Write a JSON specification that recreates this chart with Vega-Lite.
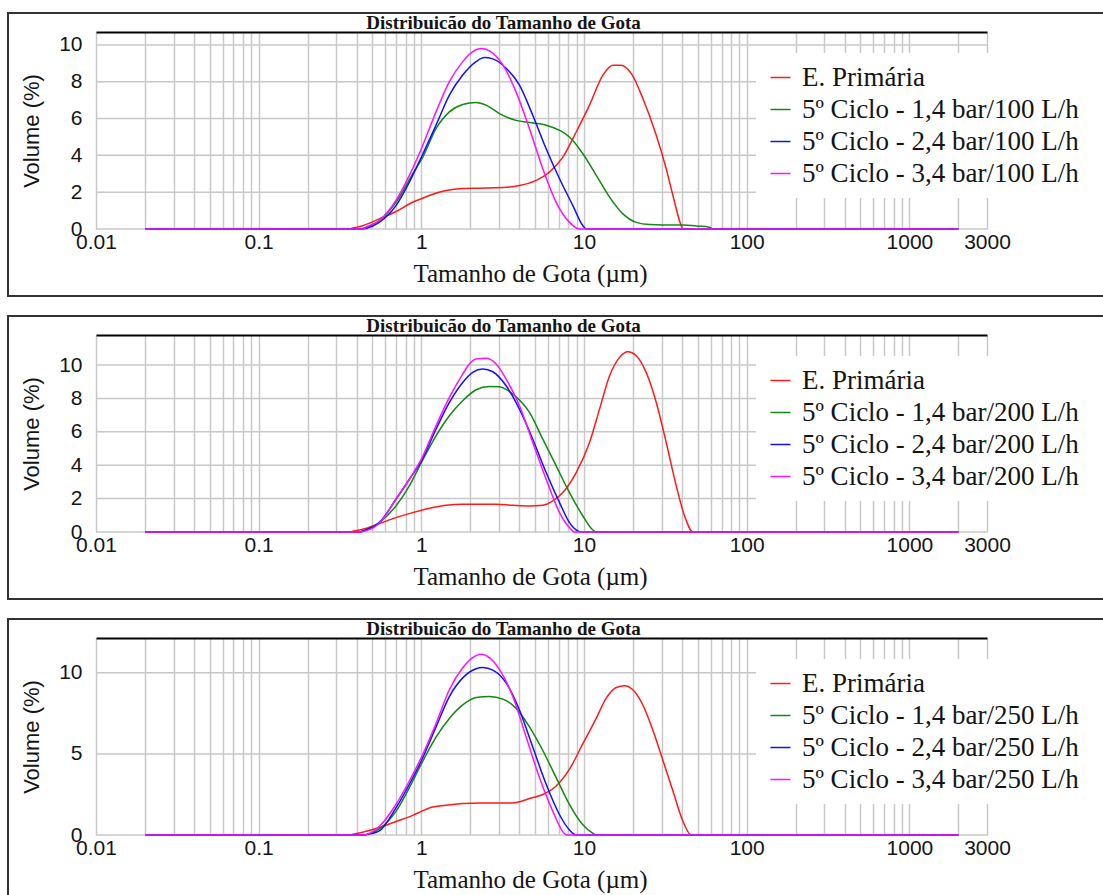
{
"$schema":"https://vega.github.io/schema/vega-lite/v6.json",
"padding":{"left":7,"top":12,"right":0,"bottom":0},
"background":"white",
"data":{"values":[
{"painel":1,"linha_grade":0,"tamanho":0.01},{"painel":1,"linha_grade":0,"tamanho":3000},
{"painel":1,"linha_grade":2,"tamanho":0.01},{"painel":1,"linha_grade":2,"tamanho":3000},
{"painel":1,"linha_grade":4,"tamanho":0.01},{"painel":1,"linha_grade":4,"tamanho":3000},
{"painel":1,"linha_grade":6,"tamanho":0.01},{"painel":1,"linha_grade":6,"tamanho":3000},
{"painel":1,"linha_grade":8,"tamanho":0.01},{"painel":1,"linha_grade":8,"tamanho":3000},
{"painel":1,"linha_grade":10,"tamanho":0.01},{"painel":1,"linha_grade":10,"tamanho":3000},
{"painel":2,"linha_grade":0,"tamanho":0.01},{"painel":2,"linha_grade":0,"tamanho":3000},
{"painel":2,"linha_grade":2,"tamanho":0.01},{"painel":2,"linha_grade":2,"tamanho":3000},
{"painel":2,"linha_grade":4,"tamanho":0.01},{"painel":2,"linha_grade":4,"tamanho":3000},
{"painel":2,"linha_grade":6,"tamanho":0.01},{"painel":2,"linha_grade":6,"tamanho":3000},
{"painel":2,"linha_grade":8,"tamanho":0.01},{"painel":2,"linha_grade":8,"tamanho":3000},
{"painel":2,"linha_grade":10,"tamanho":0.01},{"painel":2,"linha_grade":10,"tamanho":3000},
{"painel":3,"linha_grade":0,"tamanho":0.01},{"painel":3,"linha_grade":0,"tamanho":3000},
{"painel":3,"linha_grade":5,"tamanho":0.01},{"painel":3,"linha_grade":5,"tamanho":3000},
{"painel":3,"linha_grade":10,"tamanho":0.01},{"painel":3,"linha_grade":10,"tamanho":3000},
{"painel":1,"serie":"E. Primária","tamanho":0.02,"volume":0},
{"painel":1,"serie":"E. Primária","tamanho":0.36,"volume":0},
{"painel":1,"serie":"E. Primária","tamanho":0.378,"volume":0.05},
{"painel":1,"serie":"E. Primária","tamanho":0.435,"volume":0.18},
{"painel":1,"serie":"E. Primária","tamanho":0.551,"volume":0.55},
{"painel":1,"serie":"E. Primária","tamanho":0.698,"volume":0.95},
{"painel":1,"serie":"E. Primária","tamanho":0.884,"volume":1.45},
{"painel":1,"serie":"E. Primária","tamanho":1.0,"volume":1.64},
{"painel":1,"serie":"E. Primária","tamanho":1.12,"volume":1.82},
{"painel":1,"serie":"E. Primária","tamanho":1.418,"volume":2.09},
{"painel":1,"serie":"E. Primária","tamanho":1.796,"volume":2.2},
{"painel":1,"serie":"E. Primária","tamanho":2.3,"volume":2.22},
{"painel":1,"serie":"E. Primária","tamanho":3.17,"volume":2.25},
{"painel":1,"serie":"E. Primária","tamanho":4.01,"volume":2.36},
{"painel":1,"serie":"E. Primária","tamanho":5.08,"volume":2.64},
{"painel":1,"serie":"E. Primária","tamanho":6.13,"volume":3.09},
{"painel":1,"serie":"E. Primária","tamanho":7.41,"volume":3.9},
{"painel":1,"serie":"E. Primária","tamanho":8.95,"volume":5.27},
{"painel":1,"serie":"E. Primária","tamanho":10.81,"volume":6.73},
{"painel":1,"serie":"E. Primária","tamanho":13.06,"volume":8.36},
{"painel":1,"serie":"E. Primária","tamanho":15.05,"volume":8.9},
{"painel":1,"serie":"E. Primária","tamanho":16.9,"volume":8.9},
{"painel":1,"serie":"E. Primária","tamanho":19.5,"volume":8.45},
{"painel":1,"serie":"E. Primária","tamanho":23.0,"volume":7.09},
{"painel":1,"serie":"E. Primária","tamanho":27.8,"volume":5.09},
{"painel":1,"serie":"E. Primária","tamanho":32.0,"volume":3.27},
{"painel":1,"serie":"E. Primária","tamanho":35.2,"volume":1.82},
{"painel":1,"serie":"E. Primária","tamanho":39.6,"volume":0.18},
{"painel":1,"serie":"E. Primária","tamanho":40.6,"volume":0},
{"painel":1,"serie":"E. Primária","tamanho":2000,"volume":0},
{"painel":1,"serie":"5º Ciclo - 1,4 bar/100 L/h","tamanho":0.02,"volume":0},
{"painel":1,"serie":"5º Ciclo - 1,4 bar/100 L/h","tamanho":0.42,"volume":0},
{"painel":1,"serie":"5º Ciclo - 1,4 bar/100 L/h","tamanho":0.435,"volume":0.03},
{"painel":1,"serie":"5º Ciclo - 1,4 bar/100 L/h","tamanho":0.551,"volume":0.45},
{"painel":1,"serie":"5º Ciclo - 1,4 bar/100 L/h","tamanho":0.698,"volume":1.45},
{"painel":1,"serie":"5º Ciclo - 1,4 bar/100 L/h","tamanho":0.884,"volume":3.0},
{"painel":1,"serie":"5º Ciclo - 1,4 bar/100 L/h","tamanho":1.02,"volume":3.9},
{"painel":1,"serie":"5º Ciclo - 1,4 bar/100 L/h","tamanho":1.231,"volume":5.45},
{"painel":1,"serie":"5º Ciclo - 1,4 bar/100 L/h","tamanho":1.487,"volume":6.36},
{"painel":1,"serie":"5º Ciclo - 1,4 bar/100 L/h","tamanho":1.796,"volume":6.76},
{"painel":1,"serie":"5º Ciclo - 1,4 bar/100 L/h","tamanho":2.17,"volume":6.87},
{"painel":1,"serie":"5º Ciclo - 1,4 bar/100 L/h","tamanho":2.5,"volume":6.73},
{"painel":1,"serie":"5º Ciclo - 1,4 bar/100 L/h","tamanho":3.02,"volume":6.27},
{"painel":1,"serie":"5º Ciclo - 1,4 bar/100 L/h","tamanho":3.82,"volume":5.9},
{"painel":1,"serie":"5º Ciclo - 1,4 bar/100 L/h","tamanho":4.62,"volume":5.78},
{"painel":1,"serie":"5º Ciclo - 1,4 bar/100 L/h","tamanho":5.85,"volume":5.64},
{"painel":1,"serie":"5º Ciclo - 1,4 bar/100 L/h","tamanho":7.07,"volume":5.36},
{"painel":1,"serie":"5º Ciclo - 1,4 bar/100 L/h","tamanho":8.14,"volume":5.0},
{"painel":1,"serie":"5º Ciclo - 1,4 bar/100 L/h","tamanho":9.84,"volume":4.09},
{"painel":1,"serie":"5º Ciclo - 1,4 bar/100 L/h","tamanho":11.9,"volume":2.91},
{"painel":1,"serie":"5º Ciclo - 1,4 bar/100 L/h","tamanho":14.36,"volume":1.73},
{"painel":1,"serie":"5º Ciclo - 1,4 bar/100 L/h","tamanho":17.34,"volume":0.82},
{"painel":1,"serie":"5º Ciclo - 1,4 bar/100 L/h","tamanho":20.94,"volume":0.36},
{"painel":1,"serie":"5º Ciclo - 1,4 bar/100 L/h","tamanho":25.3,"volume":0.24},
{"painel":1,"serie":"5º Ciclo - 1,4 bar/100 L/h","tamanho":30.6,"volume":0.22},
{"painel":1,"serie":"5º Ciclo - 1,4 bar/100 L/h","tamanho":40.6,"volume":0.22},
{"painel":1,"serie":"5º Ciclo - 1,4 bar/100 L/h","tamanho":49,"volume":0.16},
{"painel":1,"serie":"5º Ciclo - 1,4 bar/100 L/h","tamanho":59,"volume":0.1},
{"painel":1,"serie":"5º Ciclo - 1,4 bar/100 L/h","tamanho":62,"volume":0},
{"painel":1,"serie":"5º Ciclo - 1,4 bar/100 L/h","tamanho":2000,"volume":0},
{"painel":1,"serie":"5º Ciclo - 2,4 bar/100 L/h","tamanho":0.02,"volume":0},
{"painel":1,"serie":"5º Ciclo - 2,4 bar/100 L/h","tamanho":0.44,"volume":0},
{"painel":1,"serie":"5º Ciclo - 2,4 bar/100 L/h","tamanho":0.456,"volume":0.03},
{"painel":1,"serie":"5º Ciclo - 2,4 bar/100 L/h","tamanho":0.551,"volume":0.36},
{"painel":1,"serie":"5º Ciclo - 2,4 bar/100 L/h","tamanho":0.698,"volume":1.27},
{"painel":1,"serie":"5º Ciclo - 2,4 bar/100 L/h","tamanho":0.844,"volume":2.55},
{"painel":1,"serie":"5º Ciclo - 2,4 bar/100 L/h","tamanho":1.0,"volume":3.9},
{"painel":1,"serie":"5º Ciclo - 2,4 bar/100 L/h","tamanho":1.231,"volume":5.64},
{"painel":1,"serie":"5º Ciclo - 2,4 bar/100 L/h","tamanho":1.487,"volume":7.27},
{"painel":1,"serie":"5º Ciclo - 2,4 bar/100 L/h","tamanho":1.796,"volume":8.36},
{"painel":1,"serie":"5º Ciclo - 2,4 bar/100 L/h","tamanho":2.17,"volume":9.09},
{"painel":1,"serie":"5º Ciclo - 2,4 bar/100 L/h","tamanho":2.44,"volume":9.31},
{"painel":1,"serie":"5º Ciclo - 2,4 bar/100 L/h","tamanho":2.75,"volume":9.24},
{"painel":1,"serie":"5º Ciclo - 2,4 bar/100 L/h","tamanho":3.32,"volume":8.73},
{"painel":1,"serie":"5º Ciclo - 2,4 bar/100 L/h","tamanho":4.01,"volume":7.82},
{"painel":1,"serie":"5º Ciclo - 2,4 bar/100 L/h","tamanho":4.84,"volume":6.18},
{"painel":1,"serie":"5º Ciclo - 2,4 bar/100 L/h","tamanho":5.85,"volume":4.36},
{"painel":1,"serie":"5º Ciclo - 2,4 bar/100 L/h","tamanho":7.07,"volume":2.73},
{"painel":1,"serie":"5º Ciclo - 2,4 bar/100 L/h","tamanho":8.54,"volume":1.27},
{"painel":1,"serie":"5º Ciclo - 2,4 bar/100 L/h","tamanho":9.84,"volume":0.18},
{"painel":1,"serie":"5º Ciclo - 2,4 bar/100 L/h","tamanho":10.31,"volume":0},
{"painel":1,"serie":"5º Ciclo - 2,4 bar/100 L/h","tamanho":2000,"volume":0},
{"painel":1,"serie":"5º Ciclo - 3,4 bar/100 L/h","tamanho":0.02,"volume":0},
{"painel":1,"serie":"5º Ciclo - 3,4 bar/100 L/h","tamanho":0.44,"volume":0},
{"painel":1,"serie":"5º Ciclo - 3,4 bar/100 L/h","tamanho":0.456,"volume":0.09},
{"painel":1,"serie":"5º Ciclo - 3,4 bar/100 L/h","tamanho":0.551,"volume":0.45},
{"painel":1,"serie":"5º Ciclo - 3,4 bar/100 L/h","tamanho":0.698,"volume":1.55},
{"painel":1,"serie":"5º Ciclo - 3,4 bar/100 L/h","tamanho":0.844,"volume":2.91},
{"painel":1,"serie":"5º Ciclo - 3,4 bar/100 L/h","tamanho":1.0,"volume":4.36},
{"painel":1,"serie":"5º Ciclo - 3,4 bar/100 L/h","tamanho":1.231,"volume":6.36},
{"painel":1,"serie":"5º Ciclo - 3,4 bar/100 L/h","tamanho":1.487,"volume":8.0},
{"painel":1,"serie":"5º Ciclo - 3,4 bar/100 L/h","tamanho":1.796,"volume":9.09},
{"painel":1,"serie":"5º Ciclo - 3,4 bar/100 L/h","tamanho":2.07,"volume":9.64},
{"painel":1,"serie":"5º Ciclo - 3,4 bar/100 L/h","tamanho":2.33,"volume":9.8},
{"painel":1,"serie":"5º Ciclo - 3,4 bar/100 L/h","tamanho":2.62,"volume":9.67},
{"painel":1,"serie":"5º Ciclo - 3,4 bar/100 L/h","tamanho":3.17,"volume":8.91},
{"painel":1,"serie":"5º Ciclo - 3,4 bar/100 L/h","tamanho":3.82,"volume":7.45},
{"painel":1,"serie":"5º Ciclo - 3,4 bar/100 L/h","tamanho":4.62,"volume":5.45},
{"painel":1,"serie":"5º Ciclo - 3,4 bar/100 L/h","tamanho":5.58,"volume":3.27},
{"painel":1,"serie":"5º Ciclo - 3,4 bar/100 L/h","tamanho":6.74,"volume":1.45},
{"painel":1,"serie":"5º Ciclo - 3,4 bar/100 L/h","tamanho":8.14,"volume":0.36},
{"painel":1,"serie":"5º Ciclo - 3,4 bar/100 L/h","tamanho":9.38,"volume":0},
{"painel":1,"serie":"5º Ciclo - 3,4 bar/100 L/h","tamanho":2000,"volume":0},
{"painel":2,"serie":"E. Primária","tamanho":0.02,"volume":0},
{"painel":2,"serie":"E. Primária","tamanho":0.36,"volume":0},
{"painel":2,"serie":"E. Primária","tamanho":0.378,"volume":0.04},
{"painel":2,"serie":"E. Primária","tamanho":0.435,"volume":0.16},
{"painel":2,"serie":"E. Primária","tamanho":0.551,"volume":0.5},
{"painel":2,"serie":"E. Primária","tamanho":0.698,"volume":0.86},
{"painel":2,"serie":"E. Primária","tamanho":0.884,"volume":1.16},
{"painel":2,"serie":"E. Primária","tamanho":1.12,"volume":1.42},
{"painel":2,"serie":"E. Primária","tamanho":1.418,"volume":1.6},
{"painel":2,"serie":"E. Primária","tamanho":1.796,"volume":1.66},
{"painel":2,"serie":"E. Primária","tamanho":2.88,"volume":1.66},
{"painel":2,"serie":"E. Primária","tamanho":3.65,"volume":1.6},
{"painel":2,"serie":"E. Primária","tamanho":4.62,"volume":1.56},
{"painel":2,"serie":"E. Primária","tamanho":5.58,"volume":1.6},
{"painel":2,"serie":"E. Primária","tamanho":6.43,"volume":1.86},
{"painel":2,"serie":"E. Primária","tamanho":7.41,"volume":2.36},
{"painel":2,"serie":"E. Primária","tamanho":8.95,"volume":3.56},
{"painel":2,"serie":"E. Primária","tamanho":10.81,"volume":5.36},
{"painel":2,"serie":"E. Primária","tamanho":12.46,"volume":7.36},
{"painel":2,"serie":"E. Primária","tamanho":14.36,"volume":9.36},
{"painel":2,"serie":"E. Primária","tamanho":16.54,"volume":10.46},
{"painel":2,"serie":"E. Primária","tamanho":18.61,"volume":10.8},
{"painel":2,"serie":"E. Primária","tamanho":20.94,"volume":10.56},
{"painel":2,"serie":"E. Primária","tamanho":24.1,"volume":9.56},
{"painel":2,"serie":"E. Primária","tamanho":27.8,"volume":7.76},
{"painel":2,"serie":"E. Primária","tamanho":32.0,"volume":5.36},
{"painel":2,"serie":"E. Primária","tamanho":36.9,"volume":2.76},
{"painel":2,"serie":"E. Primária","tamanho":41.5,"volume":0.96},
{"painel":2,"serie":"E. Primária","tamanho":46.8,"volume":0},
{"painel":2,"serie":"E. Primária","tamanho":2000,"volume":0},
{"painel":2,"serie":"5º Ciclo - 1,4 bar/200 L/h","tamanho":0.02,"volume":0},
{"painel":2,"serie":"5º Ciclo - 1,4 bar/200 L/h","tamanho":0.42,"volume":0},
{"painel":2,"serie":"5º Ciclo - 1,4 bar/200 L/h","tamanho":0.435,"volume":0.06},
{"painel":2,"serie":"5º Ciclo - 1,4 bar/200 L/h","tamanho":0.551,"volume":0.56},
{"painel":2,"serie":"5º Ciclo - 1,4 bar/200 L/h","tamanho":0.698,"volume":1.56},
{"painel":2,"serie":"5º Ciclo - 1,4 bar/200 L/h","tamanho":0.844,"volume":2.76},
{"painel":2,"serie":"5º Ciclo - 1,4 bar/200 L/h","tamanho":1.0,"volume":4.16},
{"painel":2,"serie":"5º Ciclo - 1,4 bar/200 L/h","tamanho":1.231,"volume":5.76},
{"painel":2,"serie":"5º Ciclo - 1,4 bar/200 L/h","tamanho":1.487,"volume":6.96},
{"painel":2,"serie":"5º Ciclo - 1,4 bar/200 L/h","tamanho":1.796,"volume":7.86},
{"painel":2,"serie":"5º Ciclo - 1,4 bar/200 L/h","tamanho":2.17,"volume":8.52},
{"painel":2,"serie":"5º Ciclo - 1,4 bar/200 L/h","tamanho":2.62,"volume":8.72},
{"painel":2,"serie":"5º Ciclo - 1,4 bar/200 L/h","tamanho":3.02,"volume":8.7},
{"painel":2,"serie":"5º Ciclo - 1,4 bar/200 L/h","tamanho":3.65,"volume":8.26},
{"painel":2,"serie":"5º Ciclo - 1,4 bar/200 L/h","tamanho":4.62,"volume":7.16},
{"painel":2,"serie":"5º Ciclo - 1,4 bar/200 L/h","tamanho":5.58,"volume":5.56},
{"painel":2,"serie":"5º Ciclo - 1,4 bar/200 L/h","tamanho":6.74,"volume":3.96},
{"painel":2,"serie":"5º Ciclo - 1,4 bar/200 L/h","tamanho":8.14,"volume":2.36},
{"painel":2,"serie":"5º Ciclo - 1,4 bar/200 L/h","tamanho":9.84,"volume":0.96},
{"painel":2,"serie":"5º Ciclo - 1,4 bar/200 L/h","tamanho":11.34,"volume":0.12},
{"painel":2,"serie":"5º Ciclo - 1,4 bar/200 L/h","tamanho":11.88,"volume":0},
{"painel":2,"serie":"5º Ciclo - 1,4 bar/200 L/h","tamanho":2000,"volume":0},
{"painel":2,"serie":"5º Ciclo - 2,4 bar/200 L/h","tamanho":0.02,"volume":0},
{"painel":2,"serie":"5º Ciclo - 2,4 bar/200 L/h","tamanho":0.42,"volume":0},
{"painel":2,"serie":"5º Ciclo - 2,4 bar/200 L/h","tamanho":0.435,"volume":0.06},
{"painel":2,"serie":"5º Ciclo - 2,4 bar/200 L/h","tamanho":0.551,"volume":0.56},
{"painel":2,"serie":"5º Ciclo - 2,4 bar/200 L/h","tamanho":0.698,"volume":1.96},
{"painel":2,"serie":"5º Ciclo - 2,4 bar/200 L/h","tamanho":0.844,"volume":3.16},
{"painel":2,"serie":"5º Ciclo - 2,4 bar/200 L/h","tamanho":1.0,"volume":4.26},
{"painel":2,"serie":"5º Ciclo - 2,4 bar/200 L/h","tamanho":1.231,"volume":6.16},
{"painel":2,"serie":"5º Ciclo - 2,4 bar/200 L/h","tamanho":1.487,"volume":7.76},
{"painel":2,"serie":"5º Ciclo - 2,4 bar/200 L/h","tamanho":1.796,"volume":8.96},
{"painel":2,"serie":"5º Ciclo - 2,4 bar/200 L/h","tamanho":2.07,"volume":9.56},
{"painel":2,"serie":"5º Ciclo - 2,4 bar/200 L/h","tamanho":2.385,"volume":9.76},
{"painel":2,"serie":"5º Ciclo - 2,4 bar/200 L/h","tamanho":2.75,"volume":9.6},
{"painel":2,"serie":"5º Ciclo - 2,4 bar/200 L/h","tamanho":3.32,"volume":8.76},
{"painel":2,"serie":"5º Ciclo - 2,4 bar/200 L/h","tamanho":4.01,"volume":7.36},
{"painel":2,"serie":"5º Ciclo - 2,4 bar/200 L/h","tamanho":4.84,"volume":5.56},
{"painel":2,"serie":"5º Ciclo - 2,4 bar/200 L/h","tamanho":5.85,"volume":3.56},
{"painel":2,"serie":"5º Ciclo - 2,4 bar/200 L/h","tamanho":7.07,"volume":1.76},
{"painel":2,"serie":"5º Ciclo - 2,4 bar/200 L/h","tamanho":8.14,"volume":0.56},
{"painel":2,"serie":"5º Ciclo - 2,4 bar/200 L/h","tamanho":9.16,"volume":0.06},
{"painel":2,"serie":"5º Ciclo - 2,4 bar/200 L/h","tamanho":9.5,"volume":0},
{"painel":2,"serie":"5º Ciclo - 2,4 bar/200 L/h","tamanho":2000,"volume":0},
{"painel":2,"serie":"5º Ciclo - 3,4 bar/200 L/h","tamanho":0.02,"volume":0},
{"painel":2,"serie":"5º Ciclo - 3,4 bar/200 L/h","tamanho":0.42,"volume":0},
{"painel":2,"serie":"5º Ciclo - 3,4 bar/200 L/h","tamanho":0.435,"volume":0.02},
{"painel":2,"serie":"5º Ciclo - 3,4 bar/200 L/h","tamanho":0.551,"volume":0.52},
{"painel":2,"serie":"5º Ciclo - 3,4 bar/200 L/h","tamanho":0.698,"volume":1.96},
{"painel":2,"serie":"5º Ciclo - 3,4 bar/200 L/h","tamanho":0.844,"volume":3.16},
{"painel":2,"serie":"5º Ciclo - 3,4 bar/200 L/h","tamanho":1.0,"volume":4.36},
{"painel":2,"serie":"5º Ciclo - 3,4 bar/200 L/h","tamanho":1.231,"volume":6.36},
{"painel":2,"serie":"5º Ciclo - 3,4 bar/200 L/h","tamanho":1.487,"volume":8.06},
{"painel":2,"serie":"5º Ciclo - 3,4 bar/200 L/h","tamanho":1.796,"volume":9.46},
{"painel":2,"serie":"5º Ciclo - 3,4 bar/200 L/h","tamanho":1.974,"volume":10.06},
{"painel":2,"serie":"5º Ciclo - 3,4 bar/200 L/h","tamanho":2.17,"volume":10.36},
{"painel":2,"serie":"5º Ciclo - 3,4 bar/200 L/h","tamanho":2.5,"volume":10.4},
{"painel":2,"serie":"5º Ciclo - 3,4 bar/200 L/h","tamanho":2.88,"volume":10.06},
{"painel":2,"serie":"5º Ciclo - 3,4 bar/200 L/h","tamanho":3.32,"volume":9.16},
{"painel":2,"serie":"5º Ciclo - 3,4 bar/200 L/h","tamanho":4.01,"volume":7.56},
{"painel":2,"serie":"5º Ciclo - 3,4 bar/200 L/h","tamanho":4.84,"volume":5.36},
{"painel":2,"serie":"5º Ciclo - 3,4 bar/200 L/h","tamanho":5.85,"volume":3.16},
{"painel":2,"serie":"5º Ciclo - 3,4 bar/200 L/h","tamanho":7.07,"volume":1.16},
{"painel":2,"serie":"5º Ciclo - 3,4 bar/200 L/h","tamanho":8.14,"volume":0.26},
{"painel":2,"serie":"5º Ciclo - 3,4 bar/200 L/h","tamanho":8.74,"volume":0},
{"painel":2,"serie":"5º Ciclo - 3,4 bar/200 L/h","tamanho":2000,"volume":0},
{"painel":3,"serie":"E. Primária","tamanho":0.02,"volume":0},
{"painel":3,"serie":"E. Primária","tamanho":0.36,"volume":0},
{"painel":3,"serie":"E. Primária","tamanho":0.378,"volume":0.04},
{"painel":3,"serie":"E. Primária","tamanho":0.435,"volume":0.17},
{"painel":3,"serie":"E. Primária","tamanho":0.551,"volume":0.46},
{"painel":3,"serie":"E. Primária","tamanho":0.698,"volume":0.83},
{"painel":3,"serie":"E. Primária","tamanho":0.884,"volume":1.21},
{"painel":3,"serie":"E. Primária","tamanho":1.0,"volume":1.46},
{"painel":3,"serie":"E. Primária","tamanho":1.12,"volume":1.67},
{"painel":3,"serie":"E. Primária","tamanho":1.418,"volume":1.83},
{"painel":3,"serie":"E. Primária","tamanho":1.796,"volume":1.94},
{"painel":3,"serie":"E. Primária","tamanho":2.33,"volume":1.98},
{"painel":3,"serie":"E. Primária","tamanho":3.65,"volume":1.98},
{"painel":3,"serie":"E. Primária","tamanho":4.62,"volume":2.25},
{"painel":3,"serie":"E. Primária","tamanho":5.58,"volume":2.5},
{"painel":3,"serie":"E. Primária","tamanho":6.74,"volume":3.02},
{"painel":3,"serie":"E. Primária","tamanho":8.14,"volume":4.06},
{"painel":3,"serie":"E. Primária","tamanho":9.84,"volume":5.63},
{"painel":3,"serie":"E. Primária","tamanho":11.88,"volume":7.19},
{"painel":3,"serie":"E. Primária","tamanho":13.69,"volume":8.44},
{"painel":3,"serie":"E. Primária","tamanho":15.78,"volume":9.1},
{"painel":3,"serie":"E. Primária","tamanho":17.75,"volume":9.21},
{"painel":3,"serie":"E. Primária","tamanho":19.97,"volume":8.96},
{"painel":3,"serie":"E. Primária","tamanho":23.0,"volume":8.02},
{"painel":3,"serie":"E. Primária","tamanho":26.5,"volume":6.46},
{"painel":3,"serie":"E. Primária","tamanho":30.6,"volume":4.58},
{"painel":3,"serie":"E. Primária","tamanho":35.2,"volume":2.71},
{"painel":3,"serie":"E. Primária","tamanho":40.6,"volume":0.83},
{"painel":3,"serie":"E. Primária","tamanho":45.6,"volume":0},
{"painel":3,"serie":"E. Primária","tamanho":2000,"volume":0},
{"painel":3,"serie":"5º Ciclo - 1,4 bar/250 L/h","tamanho":0.02,"volume":0},
{"painel":3,"serie":"5º Ciclo - 1,4 bar/250 L/h","tamanho":0.44,"volume":0},
{"painel":3,"serie":"5º Ciclo - 1,4 bar/250 L/h","tamanho":0.456,"volume":0.02},
{"painel":3,"serie":"5º Ciclo - 1,4 bar/250 L/h","tamanho":0.551,"volume":0.38},
{"painel":3,"serie":"5º Ciclo - 1,4 bar/250 L/h","tamanho":0.698,"volume":1.46},
{"painel":3,"serie":"5º Ciclo - 1,4 bar/250 L/h","tamanho":0.844,"volume":2.92},
{"painel":3,"serie":"5º Ciclo - 1,4 bar/250 L/h","tamanho":1.0,"volume":4.38},
{"painel":3,"serie":"5º Ciclo - 1,4 bar/250 L/h","tamanho":1.231,"volume":6.04},
{"painel":3,"serie":"5º Ciclo - 1,4 bar/250 L/h","tamanho":1.487,"volume":7.19},
{"painel":3,"serie":"5º Ciclo - 1,4 bar/250 L/h","tamanho":1.796,"volume":8.02},
{"painel":3,"serie":"5º Ciclo - 1,4 bar/250 L/h","tamanho":2.17,"volume":8.48},
{"painel":3,"serie":"5º Ciclo - 1,4 bar/250 L/h","tamanho":2.62,"volume":8.54},
{"painel":3,"serie":"5º Ciclo - 1,4 bar/250 L/h","tamanho":3.17,"volume":8.38},
{"painel":3,"serie":"5º Ciclo - 1,4 bar/250 L/h","tamanho":3.82,"volume":7.81},
{"painel":3,"serie":"5º Ciclo - 1,4 bar/250 L/h","tamanho":4.62,"volume":6.67},
{"painel":3,"serie":"5º Ciclo - 1,4 bar/250 L/h","tamanho":5.58,"volume":5.21},
{"painel":3,"serie":"5º Ciclo - 1,4 bar/250 L/h","tamanho":6.74,"volume":3.54},
{"painel":3,"serie":"5º Ciclo - 1,4 bar/250 L/h","tamanho":8.14,"volume":1.88},
{"painel":3,"serie":"5º Ciclo - 1,4 bar/250 L/h","tamanho":9.84,"volume":0.63},
{"painel":3,"serie":"5º Ciclo - 1,4 bar/250 L/h","tamanho":11.34,"volume":0.1},
{"painel":3,"serie":"5º Ciclo - 1,4 bar/250 L/h","tamanho":11.88,"volume":0},
{"painel":3,"serie":"5º Ciclo - 1,4 bar/250 L/h","tamanho":2000,"volume":0},
{"painel":3,"serie":"5º Ciclo - 2,4 bar/250 L/h","tamanho":0.02,"volume":0},
{"painel":3,"serie":"5º Ciclo - 2,4 bar/250 L/h","tamanho":0.44,"volume":0},
{"painel":3,"serie":"5º Ciclo - 2,4 bar/250 L/h","tamanho":0.456,"volume":0.02},
{"painel":3,"serie":"5º Ciclo - 2,4 bar/250 L/h","tamanho":0.551,"volume":0.25},
{"painel":3,"serie":"5º Ciclo - 2,4 bar/250 L/h","tamanho":0.698,"volume":1.67},
{"painel":3,"serie":"5º Ciclo - 2,4 bar/250 L/h","tamanho":0.844,"volume":3.13},
{"painel":3,"serie":"5º Ciclo - 2,4 bar/250 L/h","tamanho":1.0,"volume":4.58},
{"painel":3,"serie":"5º Ciclo - 2,4 bar/250 L/h","tamanho":1.231,"volume":6.67},
{"painel":3,"serie":"5º Ciclo - 2,4 bar/250 L/h","tamanho":1.487,"volume":8.54},
{"painel":3,"serie":"5º Ciclo - 2,4 bar/250 L/h","tamanho":1.796,"volume":9.69},
{"painel":3,"serie":"5º Ciclo - 2,4 bar/250 L/h","tamanho":2.17,"volume":10.25},
{"painel":3,"serie":"5º Ciclo - 2,4 bar/250 L/h","tamanho":2.385,"volume":10.33},
{"painel":3,"serie":"5º Ciclo - 2,4 bar/250 L/h","tamanho":2.75,"volume":10.17},
{"painel":3,"serie":"5º Ciclo - 2,4 bar/250 L/h","tamanho":3.32,"volume":9.38},
{"painel":3,"serie":"5º Ciclo - 2,4 bar/250 L/h","tamanho":4.01,"volume":7.71},
{"painel":3,"serie":"5º Ciclo - 2,4 bar/250 L/h","tamanho":4.84,"volume":5.42},
{"painel":3,"serie":"5º Ciclo - 2,4 bar/250 L/h","tamanho":5.85,"volume":3.13},
{"painel":3,"serie":"5º Ciclo - 2,4 bar/250 L/h","tamanho":7.07,"volume":1.25},
{"painel":3,"serie":"5º Ciclo - 2,4 bar/250 L/h","tamanho":8.14,"volume":0.31},
{"painel":3,"serie":"5º Ciclo - 2,4 bar/250 L/h","tamanho":8.95,"volume":0},
{"painel":3,"serie":"5º Ciclo - 2,4 bar/250 L/h","tamanho":2000,"volume":0},
{"painel":3,"serie":"5º Ciclo - 3,4 bar/250 L/h","tamanho":0.02,"volume":0},
{"painel":3,"serie":"5º Ciclo - 3,4 bar/250 L/h","tamanho":0.44,"volume":0},
{"painel":3,"serie":"5º Ciclo - 3,4 bar/250 L/h","tamanho":0.456,"volume":0.02},
{"painel":3,"serie":"5º Ciclo - 3,4 bar/250 L/h","tamanho":0.551,"volume":0.52},
{"painel":3,"serie":"5º Ciclo - 3,4 bar/250 L/h","tamanho":0.698,"volume":1.88},
{"painel":3,"serie":"5º Ciclo - 3,4 bar/250 L/h","tamanho":0.844,"volume":3.33},
{"painel":3,"serie":"5º Ciclo - 3,4 bar/250 L/h","tamanho":1.0,"volume":4.79},
{"painel":3,"serie":"5º Ciclo - 3,4 bar/250 L/h","tamanho":1.231,"volume":6.88},
{"painel":3,"serie":"5º Ciclo - 3,4 bar/250 L/h","tamanho":1.487,"volume":8.96},
{"painel":3,"serie":"5º Ciclo - 3,4 bar/250 L/h","tamanho":1.796,"volume":10.31},
{"painel":3,"serie":"5º Ciclo - 3,4 bar/250 L/h","tamanho":2.07,"volume":10.94},
{"painel":3,"serie":"5º Ciclo - 3,4 bar/250 L/h","tamanho":2.33,"volume":11.15},
{"painel":3,"serie":"5º Ciclo - 3,4 bar/250 L/h","tamanho":2.62,"volume":10.94},
{"painel":3,"serie":"5º Ciclo - 3,4 bar/250 L/h","tamanho":3.02,"volume":10.21},
{"painel":3,"serie":"5º Ciclo - 3,4 bar/250 L/h","tamanho":3.65,"volume":8.54},
{"painel":3,"serie":"5º Ciclo - 3,4 bar/250 L/h","tamanho":4.41,"volume":6.04},
{"painel":3,"serie":"5º Ciclo - 3,4 bar/250 L/h","tamanho":5.32,"volume":3.54},
{"painel":3,"serie":"5º Ciclo - 3,4 bar/250 L/h","tamanho":6.43,"volume":1.46},
{"painel":3,"serie":"5º Ciclo - 3,4 bar/250 L/h","tamanho":7.41,"volume":0.21},
{"painel":3,"serie":"5º Ciclo - 3,4 bar/250 L/h","tamanho":7.77,"volume":0},
{"painel":3,"serie":"5º Ciclo - 3,4 bar/250 L/h","tamanho":2000,"volume":0}
]},
"spacing":18,
"resolve":{"scale":{"color":"independent","x":"independent","y":"independent"}},
"vconcat":[
{
"width":1100,"height":283,
"layer":[
{"transform":[{"filter":"datum.painel == 1 && isValid(datum.linha_grade)"}],"mark":{"type":"line","color":"#c8c8c8","strokeWidth":1.5},
"encoding":{
"x":{"field":"tamanho","type":"quantitative","scale":{"type":"log","domain":[0.01,3000],"range":[88,979]},"axis":null},
"y":{"field":"linha_grade","type":"quantitative","scale":{"domain":[0,10.7],"range":[216,19],"nice":false,"zero":false},"axis":null},
"detail":{"field":"linha_grade","type":"nominal"}
}},
{"transform":[{"filter":"false"}],"mark":{"type":"line"},
"encoding":{
"x":{"field":"tamanho","type":"quantitative","scale":{"type":"log","domain":[0.01,3000],"range":[88,979]},"axis":{"orient":"top","offset":-19,"values":[0.01,0.02,0.03,0.04,0.05,0.06,0.07,0.08,0.09,0.1,0.2,0.3,0.4,0.5,0.6,0.7,0.8,0.9,1,2,3,4,5,6,7,8,9,10,20,30,40,50,60,70,80,90,100,200,300,400,500,600,700,800,900,1000,2000,3000],"grid":true,"labels":false,"ticks":false,"domain":true,"domainColor":"#000000","domainWidth":2,"title":"Distribuicão do Tamanho de Gota","titleFont":"Liberation Serif","titleFontSize":19,"titleFontWeight":"bold","titleX":495,"titleY":-10,"titleBaseline":"middle","titleAlign":"center"}},
"y":{"field":"volume","type":"quantitative","scale":{"domain":[0,10.7],"range":[216,19],"nice":false,"zero":false},"axis":null}
}},
{"transform":[{"filter":"datum.painel == 1 && isValid(datum.serie)"}],"mark":{"type":"line","strokeWidth":1.5,"interpolate":"monotone"},
"encoding":{
"x":{"field":"tamanho","type":"quantitative","scale":{"type":"log","domain":[0.01,3000],"range":[88,979]},"axis":{"orient":"bottom","offset":-67,"values":[0.01,0.1,1,10,100,1000,3000],"format":"~g","grid":false,"ticks":false,"domain":false,"labelPadding":2,"title":"Tamanho de Gota (µm)","titleX":522,"titlePadding":9}},
"y":{"field":"volume","type":"quantitative","scale":{"domain":[0,10.7],"range":[216,19],"nice":false,"zero":false},"axis":{"orient":"left","offset":-88,"values":[0,2,4,6,8,10],"grid":false,"ticks":false,"domain":false,"labelPadding":14,"title":"Volume (%)","titlePadding":15}},
"color":{"field":"serie","type":"nominal","scale":{"domain":["E. Primária","5º Ciclo - 1,4 bar/100 L/h","5º Ciclo - 2,4 bar/100 L/h","5º Ciclo - 3,4 bar/100 L/h"],"range":["#ff1a1a","#108a10","#1010ff","#ff10ff"]},"legend":{"title":null,"orient":"none","legendX":748,"legendY":40,"labelFont":"Liberation Serif","labelFontSize":27,"labelOffset":8}}
}}
],
"resolve":{"axis":{"x":"independent","y":"independent"}}
},
{
"width":1100,"height":283,
"layer":[
{"transform":[{"filter":"datum.painel == 2 && isValid(datum.linha_grade)"}],"mark":{"type":"line","color":"#c8c8c8","strokeWidth":1.5},
"encoding":{
"x":{"field":"tamanho","type":"quantitative","scale":{"type":"log","domain":[0.01,3000],"range":[88,979]},"axis":null},
"y":{"field":"linha_grade","type":"quantitative","scale":{"domain":[0,11.8],"range":[216,19],"nice":false,"zero":false},"axis":null},
"detail":{"field":"linha_grade","type":"nominal"}
}},
{"transform":[{"filter":"false"}],"mark":{"type":"line"},
"encoding":{
"x":{"field":"tamanho","type":"quantitative","scale":{"type":"log","domain":[0.01,3000],"range":[88,979]},"axis":{"orient":"top","offset":-19,"values":[0.01,0.02,0.03,0.04,0.05,0.06,0.07,0.08,0.09,0.1,0.2,0.3,0.4,0.5,0.6,0.7,0.8,0.9,1,2,3,4,5,6,7,8,9,10,20,30,40,50,60,70,80,90,100,200,300,400,500,600,700,800,900,1000,2000,3000],"grid":true,"labels":false,"ticks":false,"domain":true,"domainColor":"#000000","domainWidth":2,"title":"Distribuicão do Tamanho de Gota","titleFont":"Liberation Serif","titleFontSize":19,"titleFontWeight":"bold","titleX":495,"titleY":-10,"titleBaseline":"middle","titleAlign":"center"}},
"y":{"field":"volume","type":"quantitative","scale":{"domain":[0,11.8],"range":[216,19],"nice":false,"zero":false},"axis":null}
}},
{"transform":[{"filter":"datum.painel == 2 && isValid(datum.serie)"}],"mark":{"type":"line","strokeWidth":1.5,"interpolate":"monotone"},
"encoding":{
"x":{"field":"tamanho","type":"quantitative","scale":{"type":"log","domain":[0.01,3000],"range":[88,979]},"axis":{"orient":"bottom","offset":-67,"values":[0.01,0.1,1,10,100,1000,3000],"format":"~g","grid":false,"ticks":false,"domain":false,"labelPadding":2,"title":"Tamanho de Gota (µm)","titleX":522,"titlePadding":9}},
"y":{"field":"volume","type":"quantitative","scale":{"domain":[0,11.8],"range":[216,19],"nice":false,"zero":false},"axis":{"orient":"left","offset":-88,"values":[0,2,4,6,8,10],"grid":false,"ticks":false,"domain":false,"labelPadding":14,"title":"Volume (%)","titlePadding":15}},
"color":{"field":"serie","type":"nominal","scale":{"domain":["E. Primária","5º Ciclo - 1,4 bar/200 L/h","5º Ciclo - 2,4 bar/200 L/h","5º Ciclo - 3,4 bar/200 L/h"],"range":["#ff1a1a","#108a10","#1010ff","#ff10ff"]},"legend":{"title":null,"orient":"none","legendX":748,"legendY":40,"labelFont":"Liberation Serif","labelFontSize":27,"labelOffset":8}}
}}
],
"resolve":{"axis":{"x":"independent","y":"independent"}}
},
{
"width":1100,"height":283,
"layer":[
{"transform":[{"filter":"datum.painel == 3 && isValid(datum.linha_grade)"}],"mark":{"type":"line","color":"#c8c8c8","strokeWidth":1.5},
"encoding":{
"x":{"field":"tamanho","type":"quantitative","scale":{"type":"log","domain":[0.01,3000],"range":[88,979]},"axis":null},
"y":{"field":"linha_grade","type":"quantitative","scale":{"domain":[0,12.15],"range":[216,19],"nice":false,"zero":false},"axis":null},
"detail":{"field":"linha_grade","type":"nominal"}
}},
{"transform":[{"filter":"false"}],"mark":{"type":"line"},
"encoding":{
"x":{"field":"tamanho","type":"quantitative","scale":{"type":"log","domain":[0.01,3000],"range":[88,979]},"axis":{"orient":"top","offset":-19,"values":[0.01,0.02,0.03,0.04,0.05,0.06,0.07,0.08,0.09,0.1,0.2,0.3,0.4,0.5,0.6,0.7,0.8,0.9,1,2,3,4,5,6,7,8,9,10,20,30,40,50,60,70,80,90,100,200,300,400,500,600,700,800,900,1000,2000,3000],"grid":true,"labels":false,"ticks":false,"domain":true,"domainColor":"#000000","domainWidth":2,"title":"Distribuicão do Tamanho de Gota","titleFont":"Liberation Serif","titleFontSize":19,"titleFontWeight":"bold","titleX":495,"titleY":-10,"titleBaseline":"middle","titleAlign":"center"}},
"y":{"field":"volume","type":"quantitative","scale":{"domain":[0,12.15],"range":[216,19],"nice":false,"zero":false},"axis":null}
}},
{"transform":[{"filter":"datum.painel == 3 && isValid(datum.serie)"}],"mark":{"type":"line","strokeWidth":1.5,"interpolate":"monotone"},
"encoding":{
"x":{"field":"tamanho","type":"quantitative","scale":{"type":"log","domain":[0.01,3000],"range":[88,979]},"axis":{"orient":"bottom","offset":-67,"values":[0.01,0.1,1,10,100,1000,3000],"format":"~g","grid":false,"ticks":false,"domain":false,"labelPadding":2,"title":"Tamanho de Gota (µm)","titleX":522,"titlePadding":9}},
"y":{"field":"volume","type":"quantitative","scale":{"domain":[0,12.15],"range":[216,19],"nice":false,"zero":false},"axis":{"orient":"left","offset":-88,"values":[0,5,10],"grid":false,"ticks":false,"domain":false,"labelPadding":14,"title":"Volume (%)","titlePadding":15}},
"color":{"field":"serie","type":"nominal","scale":{"domain":["E. Primária","5º Ciclo - 1,4 bar/250 L/h","5º Ciclo - 2,4 bar/250 L/h","5º Ciclo - 3,4 bar/250 L/h"],"range":["#ff1a1a","#108a10","#1010ff","#ff10ff"]},"legend":{"title":null,"orient":"none","legendX":748,"legendY":40,"labelFont":"Liberation Serif","labelFontSize":27,"labelOffset":8}}
}}
],
"resolve":{"axis":{"x":"independent","y":"independent"}}
}
],
"config":{
"view":{"stroke":"#333333","strokeWidth":2},
"axis":{"labelFont":"Liberation Sans","labelFontSize":21,"labelColor":"#141414","titleFont":"Liberation Sans","titleFontSize":22,"titleFontWeight":"normal","titleColor":"#141414","gridColor":"#c8c8c8","gridWidth":1.5,"gridOpacity":1,"labelFlush":false,"labelOverlap":false,"labelBound":false},
"axisBottom":{"titleFont":"Liberation Serif","titleFontSize":25},
"legend":{"fillColor":"white","padding":11,"symbolType":"stroke","symbolSize":400,"symbolStrokeWidth":1.5,"labelFont":"Liberation Serif","labelFontSize":27,"labelColor":"#141414","labelLimit":500,"labelOffset":8,"rowPadding":4}
}
}
